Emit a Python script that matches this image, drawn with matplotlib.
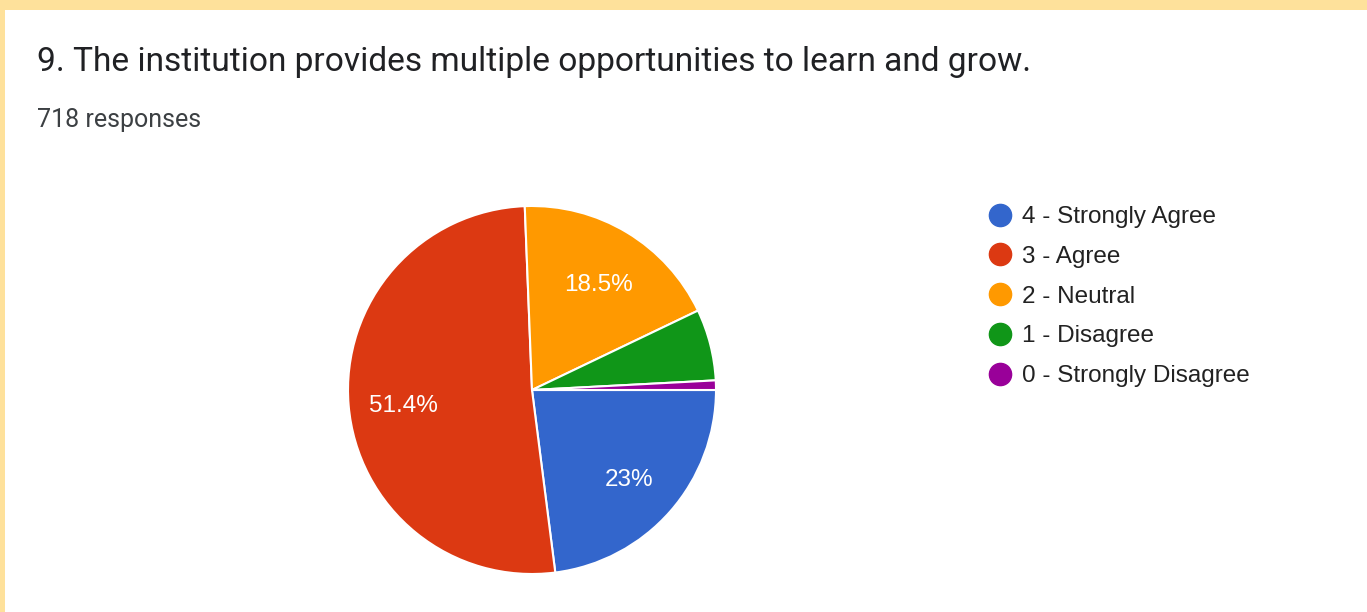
import matplotlib.pyplot as plt
from matplotlib.lines import Line2D
from matplotlib.patches import Rectangle

plt.rcParams["font.family"] = ["Liberation Sans", "DejaVu Sans"]

# survey answers (counts out of 718 responses)
categories = ["4 - Strongly Agree", "3 - Agree", "2 - Neutral", "1 - Disagree", "0 - Strongly Disagree"]
counts = [165, 369, 133, 45, 6]
colors = ["#3366cc", "#dc3912", "#ff9900", "#109618", "#990099"]

title = "9. The institution provides multiple opportunities to learn and grow."
subtitle = "718 responses"

W, H = 1367, 612


def _fmt(pct: float) -> str:
    if pct < 10:
        return ""
    s = f"{pct:.1f}"
    if s.endswith(".0"):
        s = s[:-2]
    return s + "%"


fig = plt.figure(figsize=(W / 100, H / 100), dpi=100)
fig.patch.set_facecolor("white")

# yellow frame on top and left
fig.add_artist(Rectangle((0, 1 - 10 / H), 1, 10 / H, transform=fig.transFigure, color="#fee19b", lw=0))
fig.add_artist(Rectangle((0, 0), 5 / W, 1, transform=fig.transFigure, color="#fee19b", lw=0))

fig.text(37 / W, 1 - 62 / H, title, fontsize=24.1, color="#202124", va="center",
         family=["Roboto", "DejaVu Sans"])
fig.text(37 / W, 1 - 120 / H, subtitle, fontsize=18, color="#3c4043", va="center",
         family=["Roboto", "DejaVu Sans"])

cx, cy, r = 532, H - 390, 184
ax = fig.add_axes([(cx - r) / W, (cy - r) / H, 2 * r / W, 2 * r / H])
wedges, _, autotexts = ax.pie(
    counts,
    colors=colors,
    startangle=0,
    counterclock=False,
    autopct=_fmt,
    pctdistance=0.7,
    radius=1.0,
    wedgeprops={"edgecolor": "white", "linewidth": 1.5},
    textprops={"color": "white", "fontsize": 17.5},
)
# labels sit a little lower than the wedge centroid
for t in autotexts:
    x, y = t.get_position()
    t.set_position((x, y - 5 / r))
ax.set_xlim(-1, 1)
ax.set_ylim(-1, 1)
ax.set_aspect("equal")
ax.axis("off")

handles = [
    Line2D([], [], marker="o", linestyle="none", markersize=16, markerfacecolor=c, markeredgecolor=c)
    for c in colors
]
fig.legend(
    handles,
    categories,
    loc="upper left",
    bbox_to_anchor=(989 / W, 1 - 206 / H),
    frameon=False,
    fontsize=17.5,
    handletextpad=0.44,
    labelspacing=0.73,
    handlelength=0.9,
    borderaxespad=0,
    borderpad=0,
    labelcolor="#222222",
)

fig.savefig("out.png", dpi=100)
